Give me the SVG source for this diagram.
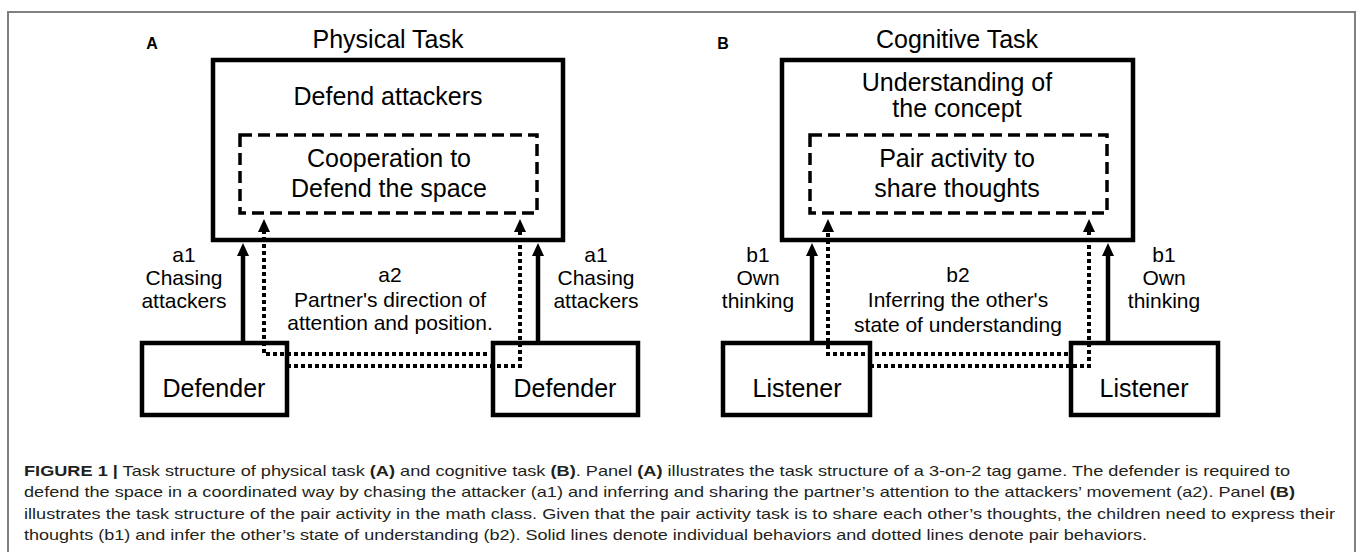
<svg xmlns="http://www.w3.org/2000/svg" width="1357" height="552" viewBox="0 0 1357 552">
<style>
.box{fill:#fff;stroke:#000;stroke-width:4.5}
.dash{fill:none;stroke:#000;stroke-width:3.5;stroke-dasharray:12 6}
.solid{fill:none;stroke:#000;stroke-width:4.5}
.dot{fill:none;stroke:#000;stroke-width:4;stroke-dasharray:4 3}
.nt{font-family:"Liberation Sans",Arial,Helvetica,sans-serif;font-size:25px;text-anchor:middle;fill:#000}
.lb{font-family:"Liberation Sans",Arial,Helvetica,sans-serif;font-size:21px;text-anchor:middle;fill:#000}
.pl{font-family:"Liberation Sans",Arial,Helvetica,sans-serif;font-size:16px;font-weight:bold;text-anchor:middle;fill:#000}
.cap{font-family:"Liberation Sans",Arial,Helvetica,sans-serif;font-size:15px;fill:#231f20}
.b{font-weight:bold}
</style>
<defs>
<marker id="ah" markerUnits="userSpaceOnUse" markerWidth="14" markerHeight="14" viewBox="0 -7 14 14" refX="1" refY="0" orient="auto">
<path d="M0,-6 L13,0 L0,6 Z" fill="#000"/>
</marker>
</defs>
<rect width="1357" height="552" fill="#fff"/>
<path d="M8,552 V12 H1355 V552" fill="none" stroke="#808080" stroke-width="2"/>

<g id="panelA-label"><text class="pl" x="152" y="49">A</text></g>
<g id="panelA-title"><text class="nt" x="388" y="48">Physical Task</text></g>
<g id="A-task">
<rect class="box" x="213" y="60" width="350" height="180"/>
<text class="nt" x="388" y="105">Defend attackers</text>
</g>
<g id="A-coop">
<rect class="dash" x="240" y="135" width="297" height="78"/>
<text class="nt" x="389" y="167">Cooperation to</text>
<text class="nt" x="389" y="197">Defend the space</text>
</g>
<g id="A-defender-left">
<rect class="box" x="142" y="343" width="145" height="72"/>
<text class="nt" x="214" y="397">Defender</text>
</g>
<g id="A-defender-right">
<rect class="box" x="493" y="343" width="145" height="72"/>
<text class="nt" x="565" y="397">Defender</text>
</g>

<g id="panelB-label"><text class="pl" x="723" y="49">B</text></g>
<g id="panelB-title"><text class="nt" x="957" y="48">Cognitive Task</text></g>
<g id="B-task">
<rect class="box" x="782" y="60" width="351" height="180"/>
<text class="nt" x="957" y="91">Understanding of</text>
<text class="nt" x="957" y="117">the concept</text>
</g>
<g id="B-pair">
<rect class="dash" x="810" y="135" width="297" height="78"/>
<text class="nt" x="957" y="167">Pair activity to</text>
<text class="nt" x="957" y="197">share thoughts</text>
</g>
<g id="B-listener-left">
<rect class="box" x="723" y="343" width="147" height="72"/>
<text class="nt" x="797" y="397">Listener</text>
</g>
<g id="B-listener-right">
<rect class="box" x="1071" y="343" width="147" height="72"/>
<text class="nt" x="1144" y="397">Listener</text>
</g>

<g id="connectors">
<path class="solid" d="M243,343 V255" marker-end="url(#ah)"/>
<path class="solid" d="M538,343 V255" marker-end="url(#ah)"/>
<path class="dot" d="M487,354 H264 V231" marker-end="url(#ah)"/>
<path class="dot" d="M287,366 H520 V231" marker-end="url(#ah)"/>
<path class="solid" d="M812,343 V255" marker-end="url(#ah)"/>
<path class="solid" d="M1108,343 V255" marker-end="url(#ah)"/>
<path class="dot" d="M1068,354 H828 V231" marker-end="url(#ah)"/>
<path class="dot" d="M870,366 H1089 V231" marker-end="url(#ah)"/>
</g>

<g id="connector-labels">
<text class="lb" x="184" y="262">a1</text>
<text class="lb" x="184" y="285">Chasing</text>
<text class="lb" x="184" y="308">attackers</text>
<text class="lb" x="596" y="262">a1</text>
<text class="lb" x="596" y="285">Chasing</text>
<text class="lb" x="596" y="308">attackers</text>
<text class="lb" x="390" y="282">a2</text>
<text class="lb" x="390" y="307">Partner's direction of</text>
<text class="lb" x="390" y="330">attention and position.</text>
<text class="lb" x="758" y="262">b1</text>
<text class="lb" x="758" y="285">Own</text>
<text class="lb" x="758" y="308">thinking</text>
<text class="lb" x="1164" y="262">b1</text>
<text class="lb" x="1164" y="285">Own</text>
<text class="lb" x="1164" y="308">thinking</text>
<text class="lb" x="958" y="282">b2</text>
<text class="lb" x="958" y="307">Inferring the other's</text>
<text class="lb" x="958" y="332">state of understanding</text>
</g>

<g id="caption">
<text class="cap" x="24" y="476" textLength="1266" lengthAdjust="spacingAndGlyphs"><tspan class="b">FIGURE 1 |</tspan> Task structure of physical task <tspan class="b">(A)</tspan> and cognitive task <tspan class="b">(B)</tspan>. Panel <tspan class="b">(A)</tspan> illustrates the task structure of a 3-on-2 tag game. The defender is required to</text>
<text class="cap" x="24" y="497" textLength="1271" lengthAdjust="spacingAndGlyphs">defend the space in a coordinated way by chasing the attacker (a1) and inferring and sharing the partner’s attention to the attackers’ movement (a2). Panel <tspan class="b">(B)</tspan></text>
<text class="cap" x="24" y="519" textLength="1311" lengthAdjust="spacingAndGlyphs">illustrates the task structure of the pair activity in the math class. Given that the pair activity task is to share each other’s thoughts, the children need to express their</text>
<text class="cap" x="24" y="540" textLength="1123" lengthAdjust="spacingAndGlyphs">thoughts (b1) and infer the other’s state of understanding (b2). Solid lines denote individual behaviors and dotted lines denote pair behaviors.</text>
</g>
</svg>
